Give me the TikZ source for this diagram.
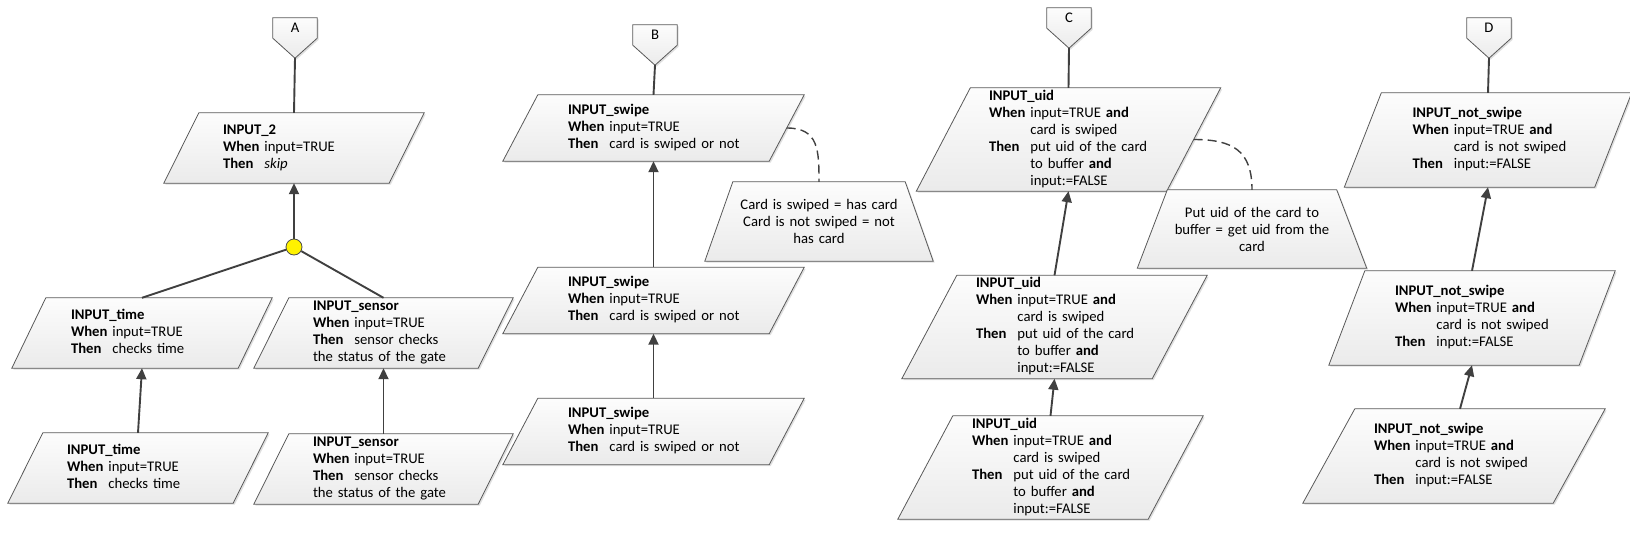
\documentclass[tikz,border=0pt]{standalone}
\usepackage{fontspec}
\setmainfont{Carlito}
\usetikzlibrary{arrows.meta,backgrounds,shadows}

\newcommand\rulefont{\fontsize{14.7pt}{17pt}\selectfont}
\newcommand\rulehead[1]{\multicolumn{2}{@{}l@{}}{\textbf{#1}}}
\newcommand\rulewrap[1]{\multicolumn{2}{@{}l@{}}{#1}}
\newenvironment{cond}{\begin{tabular}{@{}l@{ }l@{}}}{\end{tabular}}

\tikzset{
    every node/.style={font=\rulefont},
    rulebox/.style n args={3}{text width=#1, minimum width=#2, minimum height=#3, inner sep=0pt, align=left},
    notebox/.style 2 args={text width=190pt, minimum width=#1, minimum height=#2, inner sep=0pt, align=center},
    offpage/.style={minimum width=44pt, minimum height=20pt, inner sep=0pt},
    plate/.style={draw=black!65, line width=0.8pt, top color=black!1, bottom color=black!8,
        drop shadow={shadow xshift=1.5pt, shadow yshift=-1.5pt, fill=black!25}},
    joint/.style={circle, draw=black!70, line width=0.8pt, fill=yellow, minimum size=16pt, inner sep=0pt},
    link/.style={draw=black!75, line width=1.9pt},
    flow/.style={link, -{Triangle[length=11pt,width=10pt]}},
    remark/.style={draw=black!75, line width=1.4pt, dash pattern=on 9pt off 5pt}
}

\begin{document}
\begin{tikzpicture}[x=1pt, y=-1pt]
    \useasboundingbox (0,0) rectangle (1630,555);

    % A
    \node[offpage] (pa) at (295,28) {\raisebox{-5pt}{A}};
    \coordinate (pa-tip) at ([yshift=-20pt]pa.south);
    \node[rulebox={142pt}{225pt}{70pt}] (in2) at (294,148) {\begin{cond}
        \rulehead{INPUT\_2}\\
        \textbf{When} & input=TRUE\\
        \textbf{Then} & \textit{skip}
    \end{cond}};
    \node[joint] (j) at (294,247) {};
    \node[rulebox={142pt}{226pt}{70pt}] (tm1) at (142,333) {\begin{cond}
        \rulehead{INPUT\_time}\\
        \textbf{When} & input=TRUE\\
        \textbf{Then} & checks time
    \end{cond}};
    \node[rulebox={141pt}{224pt}{70pt}] (ss1) at (383.5,333) {\begin{cond}
        \rulehead{INPUT\_sensor}\\
        \textbf{When} & input=TRUE\\
        \textbf{Then} & sensor checks\\
        \rulewrap{the status of the gate}
    \end{cond}};
    \node[rulebox={142pt}{225pt}{70pt}] (tm2) at (138,468) {\begin{cond}
        \rulehead{INPUT\_time}\\
        \textbf{When} & input=TRUE\\
        \textbf{Then} & checks time
    \end{cond}};
    \node[rulebox={141pt}{224pt}{70pt}] (ss2) at (383.5,469) {\begin{cond}
        \rulehead{INPUT\_sensor}\\
        \textbf{When} & input=TRUE\\
        \textbf{Then} & sensor checks\\
        \rulewrap{the status of the gate}
    \end{cond}};

    % B
    \node[offpage] (pb) at (655,35) {\raisebox{-5pt}{B}};
    \coordinate (pb-tip) at ([yshift=-20pt]pb.south);
    \foreach \n/\y in {sw1/128, sw2/300.5, sw3/431.5}
        \node[rulebox={171pt}{266pt}{66pt}] (\n) at (653.5,\y) {\begin{cond}
            \rulehead{INPUT\_swipe}\\
            \textbf{When} & input=TRUE\\
            \textbf{Then} & card is swiped or not
        \end{cond}};
    \node[notebox={200pt}{79pt}] (nb) at (819,221.5)
        {Card is swiped = has card\\Card is not swiped = not\\has card};

    % C
    \node[offpage] (pc) at (1069,18) {\raisebox{-5pt}{C}};
    \coordinate (pc-tip) at ([yshift=-20pt]pc.south);
    \foreach \n/\x/\y/\w in {ud1/1068.5/139.5/159pt, ud2/1054.5/327/157pt, ud3/1050.5/467.5/157pt}
        \node[rulebox={\w}{250pt}{103pt}] (\n) at (\x,\y) {\begin{cond}
            \rulehead{INPUT\_uid}\\
            \textbf{When} & input=TRUE \textbf{and}\\
                          & card is swiped\\
            \textbf{Then} & put uid of the card\\
                          & to buffer \textbf{and}\\
                          & input:=FALSE
        \end{cond}};
    \node[notebox={199pt}{78pt}] (nc) at (1252,229)
        {Put uid of the card to\\buffer = get uid from the\\card};

    % D
    \node[offpage] (pd) at (1489,28) {\raisebox{-5pt}{D}};
    \coordinate (pd-tip) at ([yshift=-20pt]pd.south);
    \foreach \n/\x/\y/\w in {ns1/1488/140/151pt, ns2/1472/318/154pt, ns3/1454/456/160pt}
        \node[rulebox={\w}{250pt}{94pt}] (\n) at (\x,\y) {\begin{cond}
            \rulehead{INPUT\_not\_swipe}\\
            \textbf{When} & input=TRUE \textbf{and}\\
                          & card is not swiped\\
            \textbf{Then} & input:=FALSE
        \end{cond}};

    % shapes behind the texts
    \begin{scope}[on background layer]
        \foreach \n/\s in {in2/17.5, tm1/17, ss1/17.5, tm2/17.5, ss2/17.5,
                sw1/17.5, sw2/17.5, sw3/17.5, ud1/27, ud2/27.5, ud3/27.5,
                ns1/18.5, ns2/18, ns3/26}
            \path[plate] ([xshift=\s pt]\n.north west) -- ([xshift=\s pt]\n.north east)
                -- ([xshift=-\s pt]\n.south east) -- ([xshift=-\s pt]\n.south west) -- cycle;
        \foreach \n/\s in {nb/14, nc/15}
            \path[plate] ([xshift=\s pt]\n.north west) -- ([xshift=-\s pt]\n.north east)
                -- ([xshift=\s pt]\n.south east) -- ([xshift=-\s pt]\n.south west) -- cycle;
        \foreach \n in {pa, pb, pc, pd}
            \path[plate] (\n.north west) -- (\n.north east) -- (\n.south east)
                -- (\n-tip) -- (\n.south west) -- cycle;
    \end{scope}

    % connectors
    \draw[link] (pa-tip) -- (in2.north);
    \draw[flow] (j) -- (in2.south);
    \draw[link] (j) -- (tm1.north);
    \draw[link] (j) -- (ss1.north);
    \draw[flow] (tm2.north) -- (tm1.south);
    \draw[flow] (ss2.north) -- (ss1.south);

    \draw[link] (pb-tip) -- (sw1.north);
    \draw[flow] (sw2.north) -- (sw1.south);
    \draw[flow] (sw3.north) -- (sw2.south);
    \draw[remark] (sw1.east) to[out=0, in=90, looseness=1.3] (nb.north);

    \draw[link] (pc-tip) -- (ud1.north);
    \draw[flow] (ud2.north) -- (ud1.south);
    \draw[flow] (ud3.north) -- (ud2.south);
    \draw[remark] (ud1.east) to[out=0, in=90, looseness=1.3] (nc.north);

    \draw[link] (pd-tip) -- (ns1.north);
    \draw[flow] (ns2.north) -- (ns1.south);
    \draw[flow] ([xshift=6pt]ns3.north) -- (ns2.south);
\end{tikzpicture}
\end{document}
